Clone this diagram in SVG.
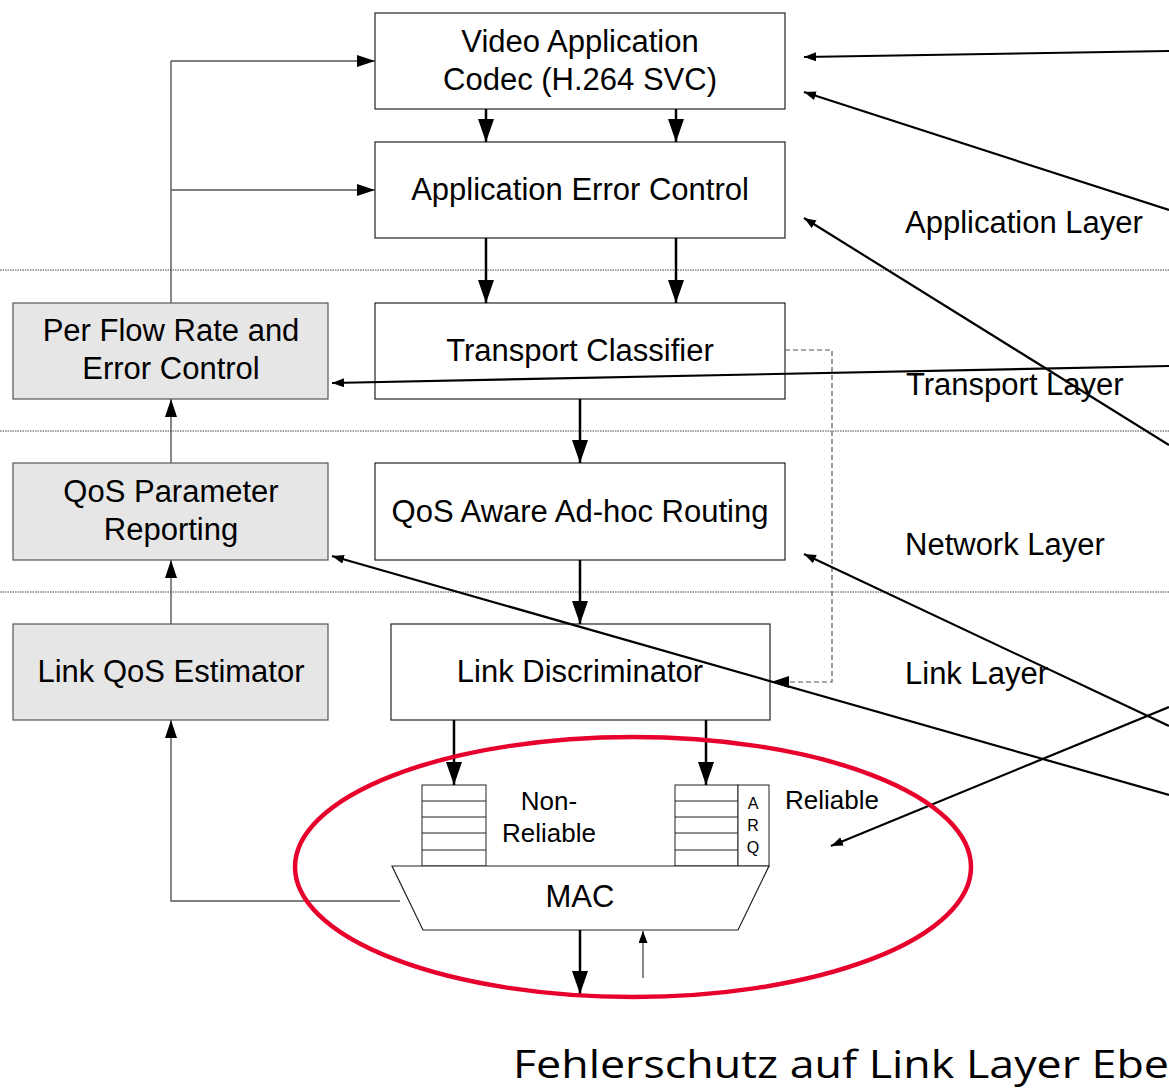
<svg xmlns="http://www.w3.org/2000/svg" width="1169" height="1088" viewBox="0 0 1169 1088">
<defs>
<style>
.box{fill:#fff;stroke:#222;stroke-width:1.2}
.gbox{fill:#e6e6e6;stroke:#555;stroke-width:1.2}
.t{font-family:"Liberation Sans",Arial,sans-serif;font-size:31px;fill:#000;text-anchor:middle}
.lt{font-family:"Liberation Sans",Arial,sans-serif;font-size:31px;fill:#000}
.s{font-family:"Liberation Sans",Arial,sans-serif;font-size:26px;fill:#000}
.arq{font-family:"Liberation Sans",Arial,sans-serif;font-size:16px;fill:#000;text-anchor:middle}
.layer{stroke:#444;stroke-width:1;stroke-dasharray:1.5,1}
.thick{stroke:#000;stroke-width:2.5;fill:none}
.thin{stroke:#555;stroke-width:1.4;fill:none}
.diag{stroke:#000;stroke-width:2.2;fill:none}
.dash{stroke:#555;stroke-width:1.2;fill:none;stroke-dasharray:5,3}
.q{fill:#fff;stroke:#222;stroke-width:1}
</style>
<marker id="big" markerUnits="userSpaceOnUse" markerWidth="26" markerHeight="18" refX="23" refY="8" orient="auto"><path d="M0,0 L23,8 L0,16 z" fill="#000"/></marker>
<marker id="mid" markerUnits="userSpaceOnUse" markerWidth="20" markerHeight="14" refX="18" refY="6" orient="auto"><path d="M0,0 L18,6 L0,12 z" fill="#000"/></marker>
<marker id="sm" markerUnits="userSpaceOnUse" markerWidth="14" markerHeight="10" refX="12" refY="4.5" orient="auto"><path d="M0,0 L12,4.5 L0,9 z" fill="#000"/></marker>
</defs>
<rect width="1169" height="1088" fill="#fff"/>

<g id="layers">
<line class="layer" x1="0" y1="270" x2="1169" y2="270"/>
<line class="layer" x1="0" y1="431" x2="1169" y2="431"/>
<line class="layer" x1="0" y1="592" x2="1169" y2="592"/>
</g>

<g id="video-app"><rect class="box" x="375" y="13" width="410" height="96"/>
<text class="t" x="580" y="52">Video Application</text><text class="t" x="580" y="90">Codec (H.264 SVC)</text></g>
<g id="app-error"><rect class="box" x="375" y="142" width="410" height="96"/>
<text class="t" x="580" y="200">Application Error Control</text></g>
<g id="transport-classifier"><rect class="box" x="375" y="303" width="410" height="96"/>
<text class="t" x="580" y="361">Transport Classifier</text></g>
<g id="routing"><rect class="box" x="375" y="463" width="410" height="97"/>
<text class="t" x="580" y="522">QoS Aware Ad-hoc Routing</text></g>
<g id="link-disc"><rect class="box" x="391" y="624" width="379" height="96"/>
<text class="t" x="580" y="682">Link Discriminator</text></g>
<g id="per-flow"><rect class="gbox" x="13" y="303" width="315" height="96"/>
<text class="t" x="171" y="341">Per Flow Rate and</text><text class="t" x="171" y="379">Error Control</text></g>
<g id="qos-report"><rect class="gbox" x="13" y="463" width="315" height="97"/>
<text class="t" x="171" y="502">QoS Parameter</text><text class="t" x="171" y="540">Reporting</text></g>
<g id="link-qos"><rect class="gbox" x="13" y="624" width="315" height="96"/>
<text class="t" x="171" y="682">Link QoS Estimator</text></g>

<g id="queue-nr">
<rect class="q" x="422" y="785" width="64" height="81"/>
<line class="q" x1="422" y1="801" x2="486" y2="801"/><line class="q" x1="422" y1="817" x2="486" y2="817"/>
<line class="q" x1="422" y1="833" x2="486" y2="833"/><line class="q" x1="422" y1="850" x2="486" y2="850"/>
<text class="s" x="549" y="810" text-anchor="middle">Non-</text><text class="s" x="549" y="842" text-anchor="middle">Reliable</text>
</g>
<g id="queue-r">
<rect class="q" x="675" y="785" width="63" height="81"/>
<line class="q" x1="675" y1="801" x2="738" y2="801"/><line class="q" x1="675" y1="817" x2="738" y2="817"/>
<line class="q" x1="675" y1="833" x2="738" y2="833"/><line class="q" x1="675" y1="850" x2="738" y2="850"/>
<rect class="q" x="738" y="785" width="31" height="81"/>
<text class="arq" x="753" y="809">A</text><text class="arq" x="753" y="831">R</text><text class="arq" x="753" y="853">Q</text>
<text class="s" x="785" y="809">Reliable</text>
</g>
<g id="mac"><path d="M392,866 L769,866 L738,930 L423,930 Z" fill="#fff" stroke="#222" stroke-width="1.2"/>
<text class="t" x="580" y="907">MAC</text></g>

<g id="layer-labels">
<text class="lt" x="905" y="233">Application Layer</text>
<text class="lt" x="906" y="395">Transport Layer</text>
<text class="lt" x="905" y="555">Network Layer</text>
<text class="lt" x="905" y="684">Link Layer</text>
</g>

<g id="connectors">
<line class="thick" x1="486" y1="109" x2="486" y2="142" marker-end="url(#big)"/>
<line class="thick" x1="676" y1="109" x2="676" y2="142" marker-end="url(#big)"/>
<line class="thick" x1="486" y1="238" x2="486" y2="303" marker-end="url(#big)"/>
<line class="thick" x1="676" y1="238" x2="676" y2="303" marker-end="url(#big)"/>
<line class="thick" x1="580" y1="399" x2="580" y2="463" marker-end="url(#big)"/>
<line class="thick" x1="580" y1="560" x2="580" y2="624" marker-end="url(#big)"/>
<line class="thick" x1="454" y1="720" x2="454" y2="785" marker-end="url(#big)"/>
<line class="thick" x1="706" y1="720" x2="706" y2="785" marker-end="url(#big)"/>
<line class="thick" x1="580" y1="930" x2="580" y2="994" marker-end="url(#big)"/>
<line class="thin" stroke="#000" x1="643" y1="978" x2="643" y2="931" marker-end="url(#sm)"/>
<polyline class="thin" points="171,303 171,61"/>
<line class="thin" x1="171" y1="61" x2="375" y2="61" marker-end="url(#mid)"/>
<line class="thin" x1="171" y1="190" x2="375" y2="190" marker-end="url(#mid)"/>
<line class="thin" x1="171" y1="463" x2="171" y2="399" marker-end="url(#mid)"/>
<line class="thin" x1="171" y1="624" x2="171" y2="560" marker-end="url(#mid)"/>
<polyline class="thin" points="400,901 171,901 171,720" marker-end="url(#mid)"/>
<polyline class="dash" points="785,350 832,350 832,682 771,682" marker-end="url(#mid)"/>
<line class="diag" x1="1169" y1="51" x2="804" y2="57" marker-end="url(#sm)"/>
<line class="diag" x1="1169" y1="210" x2="804" y2="92" marker-end="url(#sm)"/>
<line class="diag" x1="1169" y1="445" x2="804" y2="218" marker-end="url(#sm)"/>
<line class="diag" x1="1169" y1="366" x2="332" y2="383" marker-end="url(#sm)"/>
<line class="diag" x1="1169" y1="726" x2="804" y2="554" marker-end="url(#sm)"/>
<line class="diag" x1="1169" y1="795" x2="332" y2="556" marker-end="url(#sm)"/>
<line class="diag" x1="1169" y1="707" x2="831" y2="846" marker-end="url(#sm)"/>
</g>

<ellipse id="highlight" cx="633" cy="867" rx="338" ry="130" fill="none" stroke="#e8002d" stroke-width="4.5"/>

<text id="caption" x="513" y="1078" font-family="'Open Sans','Noto Sans',sans-serif" font-size="39" textLength="656" lengthAdjust="spacingAndGlyphs" fill="#000">Fehlerschutz auf Link Layer Ebe</text>
</svg>
